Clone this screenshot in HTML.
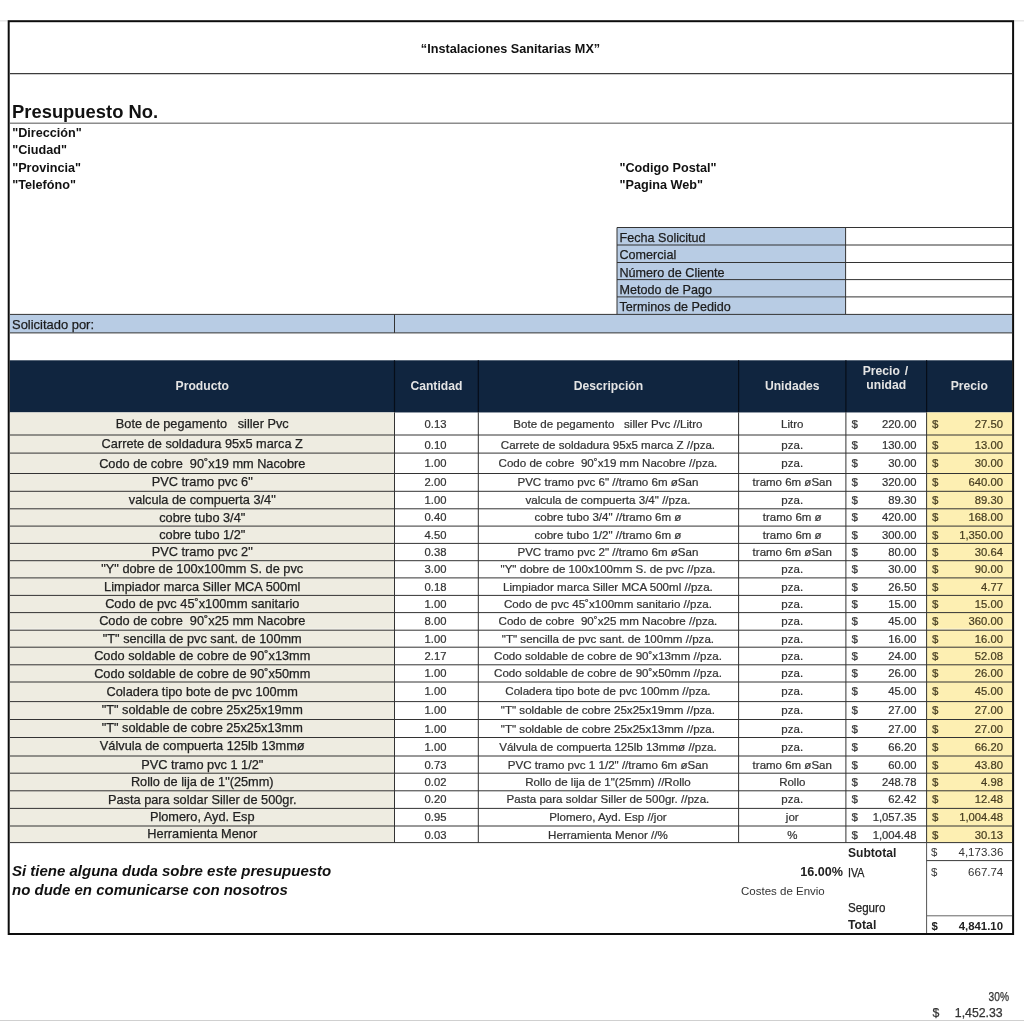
<!DOCTYPE html>
<html><head><meta charset="utf-8"><title>Presupuesto</title>
<style>
html,body{margin:0;padding:0;background:#fff;}
body{width:1024px;height:1024px;position:relative;overflow:hidden;font-family:"Liberation Sans",sans-serif;}
div{position:absolute;box-sizing:content-box;}
.t{white-space:pre;overflow:visible;}
.b{font-weight:bold;}
.tb{-webkit-text-stroke:0.25px currentColor;}
.ta{-webkit-text-stroke:0.22px currentColor;}
.i{font-style:italic;}
.c{text-align:center;}
.r{text-align:right;}
</style></head><body>
<svg width="1024" height="1024" viewBox="0 0 1024 1024" style="position:absolute;left:0;top:0"><rect x="0.00" y="20.30" width="1024.00" height="1.10" fill="#dedede"/><rect x="0.00" y="1020.00" width="1024.00" height="1.00" fill="#d0d0d0"/><rect x="8.00" y="20.00" width="1006.00" height="915.00" fill="#fff"/><line x1="10.00" y1="73.70" x2="1012.00" y2="73.70" stroke="#3c3c3c" stroke-width="1.20"/><line x1="10.00" y1="123.30" x2="1012.00" y2="123.30" stroke="#8c8c8c" stroke-width="1.60"/><rect x="617.00" y="227.50" width="228.50" height="87.00" fill="#b8cce4"/><line x1="617.00" y1="227.50" x2="1012.00" y2="227.50" stroke="#333333" stroke-width="1.00"/><line x1="617.00" y1="245.00" x2="1012.00" y2="245.00" stroke="#333333" stroke-width="1.00"/><line x1="617.00" y1="262.50" x2="1012.00" y2="262.50" stroke="#333333" stroke-width="1.00"/><line x1="617.00" y1="279.60" x2="1012.00" y2="279.60" stroke="#333333" stroke-width="1.00"/><line x1="617.00" y1="296.90" x2="1012.00" y2="296.90" stroke="#333333" stroke-width="1.00"/><line x1="617.00" y1="227.50" x2="617.00" y2="314.40" stroke="#333333" stroke-width="1.00"/><line x1="845.60" y1="227.50" x2="845.60" y2="314.40" stroke="#333333" stroke-width="1.00"/><rect x="10.00" y="314.40" width="1002.00" height="18.50" fill="#b8cce4"/><line x1="10.00" y1="314.40" x2="1012.00" y2="314.40" stroke="#333333" stroke-width="1.00"/><line x1="10.00" y1="332.90" x2="1012.00" y2="332.90" stroke="#333333" stroke-width="1.00"/><line x1="394.50" y1="314.40" x2="394.50" y2="332.90" stroke="#333333" stroke-width="1.00"/><rect x="9.70" y="360.30" width="1002.40" height="52.15" fill="#10253f"/><line x1="394.50" y1="360.30" x2="394.50" y2="412.30" stroke="#060d18" stroke-width="1.20"/><line x1="478.30" y1="360.30" x2="478.30" y2="412.30" stroke="#060d18" stroke-width="1.20"/><line x1="738.60" y1="360.30" x2="738.60" y2="412.30" stroke="#060d18" stroke-width="1.20"/><line x1="845.90" y1="360.30" x2="845.90" y2="412.30" stroke="#060d18" stroke-width="1.20"/><line x1="926.60" y1="360.30" x2="926.60" y2="412.30" stroke="#060d18" stroke-width="1.20"/><rect x="10.00" y="412.40" width="384.50" height="430.20" fill="#eeece1"/><rect x="926.60" y="412.40" width="85.40" height="430.20" fill="#fdefb2"/><rect x="9.70" y="628.70" width="1002.40" height="1.00" fill="rgba(255,255,255,0.7)"/><line x1="10.00" y1="435.00" x2="1012.00" y2="435.00" stroke="#333333" stroke-width="1.00"/><line x1="10.00" y1="453.10" x2="1012.00" y2="453.10" stroke="#333333" stroke-width="1.00"/><line x1="10.00" y1="473.50" x2="1012.00" y2="473.50" stroke="#333333" stroke-width="1.00"/><line x1="10.00" y1="491.30" x2="1012.00" y2="491.30" stroke="#333333" stroke-width="1.00"/><line x1="10.00" y1="508.80" x2="1012.00" y2="508.80" stroke="#333333" stroke-width="1.00"/><line x1="10.00" y1="526.10" x2="1012.00" y2="526.10" stroke="#333333" stroke-width="1.00"/><line x1="10.00" y1="543.40" x2="1012.00" y2="543.40" stroke="#333333" stroke-width="1.00"/><line x1="10.00" y1="560.70" x2="1012.00" y2="560.70" stroke="#333333" stroke-width="1.00"/><line x1="10.00" y1="577.90" x2="1012.00" y2="577.90" stroke="#333333" stroke-width="1.00"/><line x1="10.00" y1="595.40" x2="1012.00" y2="595.40" stroke="#333333" stroke-width="1.00"/><line x1="10.00" y1="612.60" x2="1012.00" y2="612.60" stroke="#333333" stroke-width="1.00"/><line x1="10.00" y1="630.20" x2="1012.00" y2="630.20" stroke="#333333" stroke-width="1.00"/><line x1="10.00" y1="647.20" x2="1012.00" y2="647.20" stroke="#333333" stroke-width="1.00"/><line x1="10.00" y1="664.80" x2="1012.00" y2="664.80" stroke="#333333" stroke-width="1.00"/><line x1="10.00" y1="682.00" x2="1012.00" y2="682.00" stroke="#333333" stroke-width="1.00"/><line x1="10.00" y1="701.60" x2="1012.00" y2="701.60" stroke="#333333" stroke-width="1.00"/><line x1="10.00" y1="719.50" x2="1012.00" y2="719.50" stroke="#333333" stroke-width="1.00"/><line x1="10.00" y1="737.50" x2="1012.00" y2="737.50" stroke="#333333" stroke-width="1.00"/><line x1="10.00" y1="756.00" x2="1012.00" y2="756.00" stroke="#333333" stroke-width="1.00"/><line x1="10.00" y1="773.20" x2="1012.00" y2="773.20" stroke="#333333" stroke-width="1.00"/><line x1="10.00" y1="790.80" x2="1012.00" y2="790.80" stroke="#333333" stroke-width="1.00"/><line x1="10.00" y1="808.40" x2="1012.00" y2="808.40" stroke="#333333" stroke-width="1.00"/><line x1="10.00" y1="826.00" x2="1012.00" y2="826.00" stroke="#333333" stroke-width="1.00"/><line x1="10.00" y1="842.60" x2="1012.00" y2="842.60" stroke="#333333" stroke-width="1.00"/><line x1="394.50" y1="412.40" x2="394.50" y2="842.60" stroke="#333333" stroke-width="1.00"/><line x1="478.30" y1="412.40" x2="478.30" y2="842.60" stroke="#333333" stroke-width="1.00"/><line x1="738.60" y1="412.40" x2="738.60" y2="842.60" stroke="#333333" stroke-width="1.00"/><line x1="845.90" y1="412.40" x2="845.90" y2="842.60" stroke="#333333" stroke-width="1.00"/><line x1="926.60" y1="412.40" x2="926.60" y2="842.60" stroke="#333333" stroke-width="1.00"/><line x1="926.60" y1="842.60" x2="926.60" y2="933.00" stroke="#555" stroke-width="1.00"/><line x1="926.60" y1="860.60" x2="1012.00" y2="860.60" stroke="#3a3a3a" stroke-width="1.00"/><line x1="926.60" y1="915.80" x2="1012.00" y2="915.80" stroke="#666" stroke-width="1.00"/><rect x="8.7" y="21.2" width="1004.4" height="912.8" fill="none" stroke="#0d0d0d" stroke-width="2"/></svg>
<div id="tx" style="left:0;top:0;width:1024px;height:1024px;will-change:transform;">
<div class="t b c" style="left:9.50px;top:23.75px;width:1002.00px;height:51.00px;line-height:51.00px;font-size:12.67px;color:#111">“Instalaciones Sanitarias MX”</div>
<div class="t b" style="left:12.00px;top:99.90px;width:400.00px;height:24.00px;line-height:24.00px;font-size:19px;color:#111;transform:scaleX(0.9680);transform-origin:left center;">Presupuesto No.</div>
<div class="t b" style="left:12.20px;top:124.80px;width:300.00px;height:17.50px;line-height:17.50px;font-size:12.65px;color:#111">"Dirección"</div>
<div class="t b" style="left:12.20px;top:142.30px;width:300.00px;height:17.50px;line-height:17.50px;font-size:12.65px;color:#111">"Ciudad"</div>
<div class="t b" style="left:12.20px;top:159.80px;width:300.00px;height:17.50px;line-height:17.50px;font-size:12.65px;color:#111">"Provincia"</div>
<div class="t b" style="left:12.20px;top:177.30px;width:300.00px;height:17.50px;line-height:17.50px;font-size:12.65px;color:#111">"Telefóno"</div>
<div class="t b" style="left:619.50px;top:159.70px;width:300.00px;height:17.50px;line-height:17.50px;font-size:12.65px;color:#111">"Codigo Postal"</div>
<div class="t b" style="left:619.50px;top:177.20px;width:300.00px;height:17.50px;line-height:17.50px;font-size:12.65px;color:#111">"Pagina Web"</div>
<div class="t tb" style="left:619.50px;top:229.50px;width:220.00px;height:17.50px;line-height:17.50px;font-size:12.6px;color:#1c1c1c">Fecha Solicitud</div>
<div class="t tb" style="left:619.50px;top:247.00px;width:220.00px;height:17.50px;line-height:17.50px;font-size:12.6px;color:#1c1c1c">Comercial</div>
<div class="t tb" style="left:619.50px;top:264.50px;width:220.00px;height:17.10px;line-height:17.10px;font-size:12.6px;color:#1c1c1c">Número de Cliente</div>
<div class="t tb" style="left:619.50px;top:281.60px;width:220.00px;height:17.30px;line-height:17.30px;font-size:12.6px;color:#1c1c1c">Metodo de Pago</div>
<div class="t tb" style="left:619.50px;top:298.90px;width:220.00px;height:17.50px;line-height:17.50px;font-size:12.6px;color:#1c1c1c">Terminos de Pedido</div>
<div class="t tb" style="left:11.50px;top:315.60px;width:300.00px;height:18.50px;line-height:18.50px;font-size:13.3px;color:#1c1c1c;transform:scaleX(0.9730);transform-origin:left center;">Solicitado por:</div>
<div class="t b c" style="left:10.00px;top:359.80px;width:384.50px;height:52.00px;line-height:52.00px;font-size:12.15px;color:#e4e4e4">Producto</div>
<div class="t b c" style="left:394.50px;top:359.80px;width:83.80px;height:52.00px;line-height:52.00px;font-size:12.15px;color:#e4e4e4">Cantidad</div>
<div class="t b c" style="left:478.30px;top:359.80px;width:260.30px;height:52.00px;line-height:52.00px;font-size:12.15px;color:#e4e4e4">Descripción</div>
<div class="t b c" style="left:738.60px;top:359.80px;width:107.30px;height:52.00px;line-height:52.00px;font-size:12.15px;color:#e4e4e4">Unidades</div>
<div class="t b c" style="left:926.60px;top:359.80px;width:85.40px;height:52.00px;line-height:52.00px;font-size:12.15px;color:#e4e4e4">Precio</div>
<div class="t b c" style="left:845.10px;top:363.50px;width:80.70px;height:14.00px;line-height:14.00px;font-size:12.15px;color:#e4e4e4;word-spacing:1.6px">Precio /</div>
<div class="t b c" style="left:845.90px;top:377.50px;width:80.70px;height:14.00px;line-height:14.00px;font-size:12.15px;color:#e4e4e4">unidad</div>
<div class="t c tb" style="left:10.00px;top:412.80px;width:384.50px;height:22.60px;line-height:22.60px;font-size:12.75px;color:#222">Bote de pegamento   siller Pvc</div>
<div class="t c ta" style="left:393.60px;top:413.00px;width:83.80px;height:22.60px;line-height:22.60px;font-size:11.25px;color:#333333">0.13</div>
<div class="t c ta" style="left:477.80px;top:413.00px;width:260.30px;height:22.60px;line-height:22.60px;font-size:11.58px;color:#333333">Bote de pegamento   siller Pvc //Litro</div>
<div class="t c ta" style="left:738.60px;top:413.00px;width:107.30px;height:22.60px;line-height:22.60px;font-size:11.5px;color:#333333">Litro</div>
<div class="t ta" style="left:851.40px;top:413.00px;width:20.00px;height:22.60px;line-height:22.60px;font-size:11.5px;color:#333333">$</div>
<div class="t r ta" style="left:845.90px;top:413.00px;width:70.60px;height:22.60px;line-height:22.60px;font-size:11.25px;color:#333333">220.00</div>
<div class="t ta" style="left:932.10px;top:413.00px;width:20.00px;height:22.60px;line-height:22.60px;font-size:11.5px;color:#453c20">$</div>
<div class="t r ta" style="left:926.60px;top:413.00px;width:76.40px;height:22.60px;line-height:22.60px;font-size:11.25px;color:#453c20">27.50</div>
<div class="t c tb" style="left:10.00px;top:434.70px;width:384.50px;height:18.10px;line-height:18.10px;font-size:12.75px;color:#222">Carrete de soldadura 95x5 marca Z</div>
<div class="t c ta" style="left:393.60px;top:435.60px;width:83.80px;height:18.10px;line-height:18.10px;font-size:11.25px;color:#333333">0.10</div>
<div class="t c ta" style="left:477.80px;top:435.60px;width:260.30px;height:18.10px;line-height:18.10px;font-size:11.58px;color:#333333">Carrete de soldadura 95x5 marca Z //pza.</div>
<div class="t c ta" style="left:738.60px;top:435.60px;width:107.30px;height:18.10px;line-height:18.10px;font-size:11.5px;color:#333333">pza.</div>
<div class="t ta" style="left:851.40px;top:435.60px;width:20.00px;height:18.10px;line-height:18.10px;font-size:11.5px;color:#333333">$</div>
<div class="t r ta" style="left:845.90px;top:435.60px;width:70.60px;height:18.10px;line-height:18.10px;font-size:11.25px;color:#333333">130.00</div>
<div class="t ta" style="left:932.10px;top:435.60px;width:20.00px;height:18.10px;line-height:18.10px;font-size:11.5px;color:#453c20">$</div>
<div class="t r ta" style="left:926.60px;top:435.60px;width:76.40px;height:18.10px;line-height:18.10px;font-size:11.25px;color:#453c20">13.00</div>
<div class="t c tb" style="left:10.00px;top:453.50px;width:384.50px;height:20.40px;line-height:20.40px;font-size:12.75px;color:#222">Codo de cobre  90˚x19 mm Nacobre</div>
<div class="t c ta" style="left:393.60px;top:452.70px;width:83.80px;height:20.40px;line-height:20.40px;font-size:11.25px;color:#333333">1.00</div>
<div class="t c ta" style="left:477.80px;top:452.70px;width:260.30px;height:20.40px;line-height:20.40px;font-size:11.58px;color:#333333">Codo de cobre  90˚x19 mm Nacobre //pza.</div>
<div class="t c ta" style="left:738.60px;top:452.70px;width:107.30px;height:20.40px;line-height:20.40px;font-size:11.5px;color:#333333">pza.</div>
<div class="t ta" style="left:851.40px;top:452.70px;width:20.00px;height:20.40px;line-height:20.40px;font-size:11.5px;color:#333333">$</div>
<div class="t r ta" style="left:845.90px;top:452.70px;width:70.60px;height:20.40px;line-height:20.40px;font-size:11.25px;color:#333333">30.00</div>
<div class="t ta" style="left:932.10px;top:452.70px;width:20.00px;height:20.40px;line-height:20.40px;font-size:11.5px;color:#453c20">$</div>
<div class="t r ta" style="left:926.60px;top:452.70px;width:76.40px;height:20.40px;line-height:20.40px;font-size:11.25px;color:#453c20">30.00</div>
<div class="t c tb" style="left:10.00px;top:473.20px;width:384.50px;height:17.80px;line-height:17.80px;font-size:12.75px;color:#222">PVC tramo pvc 6"</div>
<div class="t c ta" style="left:393.60px;top:474.10px;width:83.80px;height:17.80px;line-height:17.80px;font-size:11.25px;color:#333333">2.00</div>
<div class="t c ta" style="left:477.80px;top:474.10px;width:260.30px;height:17.80px;line-height:17.80px;font-size:11.58px;color:#333333">PVC tramo pvc 6" //tramo 6m øSan</div>
<div class="t c ta" style="left:738.60px;top:474.10px;width:107.30px;height:17.80px;line-height:17.80px;font-size:11.5px;color:#333333">tramo 6m øSan</div>
<div class="t ta" style="left:851.40px;top:474.10px;width:20.00px;height:17.80px;line-height:17.80px;font-size:11.5px;color:#333333">$</div>
<div class="t r ta" style="left:845.90px;top:474.10px;width:70.60px;height:17.80px;line-height:17.80px;font-size:11.25px;color:#333333">320.00</div>
<div class="t ta" style="left:932.10px;top:474.10px;width:20.00px;height:17.80px;line-height:17.80px;font-size:11.5px;color:#453c20">$</div>
<div class="t r ta" style="left:926.60px;top:474.10px;width:76.40px;height:17.80px;line-height:17.80px;font-size:11.25px;color:#453c20">640.00</div>
<div class="t c tb" style="left:10.00px;top:491.00px;width:384.50px;height:17.50px;line-height:17.50px;font-size:12.75px;color:#222">valcula de compuerta 3/4"</div>
<div class="t c ta" style="left:393.60px;top:491.90px;width:83.80px;height:17.50px;line-height:17.50px;font-size:11.25px;color:#333333">1.00</div>
<div class="t c ta" style="left:477.80px;top:491.90px;width:260.30px;height:17.50px;line-height:17.50px;font-size:11.58px;color:#333333">valcula de compuerta 3/4" //pza.</div>
<div class="t c ta" style="left:738.60px;top:491.90px;width:107.30px;height:17.50px;line-height:17.50px;font-size:11.5px;color:#333333">pza.</div>
<div class="t ta" style="left:851.40px;top:491.90px;width:20.00px;height:17.50px;line-height:17.50px;font-size:11.5px;color:#333333">$</div>
<div class="t r ta" style="left:845.90px;top:491.90px;width:70.60px;height:17.50px;line-height:17.50px;font-size:11.25px;color:#333333">89.30</div>
<div class="t ta" style="left:932.10px;top:491.90px;width:20.00px;height:17.50px;line-height:17.50px;font-size:11.5px;color:#453c20">$</div>
<div class="t r ta" style="left:926.60px;top:491.90px;width:76.40px;height:17.50px;line-height:17.50px;font-size:11.25px;color:#453c20">89.30</div>
<div class="t c tb" style="left:10.00px;top:508.50px;width:384.50px;height:17.30px;line-height:17.30px;font-size:12.75px;color:#222">cobre tubo 3/4"</div>
<div class="t c ta" style="left:393.60px;top:509.40px;width:83.80px;height:17.30px;line-height:17.30px;font-size:11.25px;color:#333333">0.40</div>
<div class="t c ta" style="left:477.80px;top:509.40px;width:260.30px;height:17.30px;line-height:17.30px;font-size:11.58px;color:#333333">cobre tubo 3/4" //tramo 6m ø</div>
<div class="t c ta" style="left:738.60px;top:509.40px;width:107.30px;height:17.30px;line-height:17.30px;font-size:11.5px;color:#333333">tramo 6m ø</div>
<div class="t ta" style="left:851.40px;top:509.40px;width:20.00px;height:17.30px;line-height:17.30px;font-size:11.5px;color:#333333">$</div>
<div class="t r ta" style="left:845.90px;top:509.40px;width:70.60px;height:17.30px;line-height:17.30px;font-size:11.25px;color:#333333">420.00</div>
<div class="t ta" style="left:932.10px;top:509.40px;width:20.00px;height:17.30px;line-height:17.30px;font-size:11.5px;color:#453c20">$</div>
<div class="t r ta" style="left:926.60px;top:509.40px;width:76.40px;height:17.30px;line-height:17.30px;font-size:11.25px;color:#453c20">168.00</div>
<div class="t c tb" style="left:10.00px;top:525.80px;width:384.50px;height:17.30px;line-height:17.30px;font-size:12.75px;color:#222">cobre tubo 1/2"</div>
<div class="t c ta" style="left:393.60px;top:526.70px;width:83.80px;height:17.30px;line-height:17.30px;font-size:11.25px;color:#333333">4.50</div>
<div class="t c ta" style="left:477.80px;top:526.70px;width:260.30px;height:17.30px;line-height:17.30px;font-size:11.58px;color:#333333">cobre tubo 1/2" //tramo 6m ø</div>
<div class="t c ta" style="left:738.60px;top:526.70px;width:107.30px;height:17.30px;line-height:17.30px;font-size:11.5px;color:#333333">tramo 6m ø</div>
<div class="t ta" style="left:851.40px;top:526.70px;width:20.00px;height:17.30px;line-height:17.30px;font-size:11.5px;color:#333333">$</div>
<div class="t r ta" style="left:845.90px;top:526.70px;width:70.60px;height:17.30px;line-height:17.30px;font-size:11.25px;color:#333333">300.00</div>
<div class="t ta" style="left:932.10px;top:526.70px;width:20.00px;height:17.30px;line-height:17.30px;font-size:11.5px;color:#453c20">$</div>
<div class="t r ta" style="left:926.60px;top:526.70px;width:76.40px;height:17.30px;line-height:17.30px;font-size:11.25px;color:#453c20">1,350.00</div>
<div class="t c tb" style="left:10.00px;top:543.10px;width:384.50px;height:17.30px;line-height:17.30px;font-size:12.75px;color:#222">PVC tramo pvc 2"</div>
<div class="t c ta" style="left:393.60px;top:544.00px;width:83.80px;height:17.30px;line-height:17.30px;font-size:11.25px;color:#333333">0.38</div>
<div class="t c ta" style="left:477.80px;top:544.00px;width:260.30px;height:17.30px;line-height:17.30px;font-size:11.58px;color:#333333">PVC tramo pvc 2" //tramo 6m øSan</div>
<div class="t c ta" style="left:738.60px;top:544.00px;width:107.30px;height:17.30px;line-height:17.30px;font-size:11.5px;color:#333333">tramo 6m øSan</div>
<div class="t ta" style="left:851.40px;top:544.00px;width:20.00px;height:17.30px;line-height:17.30px;font-size:11.5px;color:#333333">$</div>
<div class="t r ta" style="left:845.90px;top:544.00px;width:70.60px;height:17.30px;line-height:17.30px;font-size:11.25px;color:#333333">80.00</div>
<div class="t ta" style="left:932.10px;top:544.00px;width:20.00px;height:17.30px;line-height:17.30px;font-size:11.5px;color:#453c20">$</div>
<div class="t r ta" style="left:926.60px;top:544.00px;width:76.40px;height:17.30px;line-height:17.30px;font-size:11.25px;color:#453c20">30.64</div>
<div class="t c tb" style="left:10.00px;top:560.40px;width:384.50px;height:17.20px;line-height:17.20px;font-size:12.75px;color:#222">"Y" dobre de 100x100mm S. de pvc</div>
<div class="t c ta" style="left:393.60px;top:561.30px;width:83.80px;height:17.20px;line-height:17.20px;font-size:11.25px;color:#333333">3.00</div>
<div class="t c ta" style="left:477.80px;top:561.30px;width:260.30px;height:17.20px;line-height:17.20px;font-size:11.58px;color:#333333">"Y" dobre de 100x100mm S. de pvc //pza.</div>
<div class="t c ta" style="left:738.60px;top:561.30px;width:107.30px;height:17.20px;line-height:17.20px;font-size:11.5px;color:#333333">pza.</div>
<div class="t ta" style="left:851.40px;top:561.30px;width:20.00px;height:17.20px;line-height:17.20px;font-size:11.5px;color:#333333">$</div>
<div class="t r ta" style="left:845.90px;top:561.30px;width:70.60px;height:17.20px;line-height:17.20px;font-size:11.25px;color:#333333">30.00</div>
<div class="t ta" style="left:932.10px;top:561.30px;width:20.00px;height:17.20px;line-height:17.20px;font-size:11.5px;color:#453c20">$</div>
<div class="t r ta" style="left:926.60px;top:561.30px;width:76.40px;height:17.20px;line-height:17.20px;font-size:11.25px;color:#453c20">90.00</div>
<div class="t c tb" style="left:10.00px;top:577.60px;width:384.50px;height:17.50px;line-height:17.50px;font-size:12.75px;color:#222">Limpiador marca Siller MCA 500ml</div>
<div class="t c ta" style="left:393.60px;top:578.50px;width:83.80px;height:17.50px;line-height:17.50px;font-size:11.25px;color:#333333">0.18</div>
<div class="t c ta" style="left:477.80px;top:578.50px;width:260.30px;height:17.50px;line-height:17.50px;font-size:11.58px;color:#333333">Limpiador marca Siller MCA 500ml //pza.</div>
<div class="t c ta" style="left:738.60px;top:578.50px;width:107.30px;height:17.50px;line-height:17.50px;font-size:11.5px;color:#333333">pza.</div>
<div class="t ta" style="left:851.40px;top:578.50px;width:20.00px;height:17.50px;line-height:17.50px;font-size:11.5px;color:#333333">$</div>
<div class="t r ta" style="left:845.90px;top:578.50px;width:70.60px;height:17.50px;line-height:17.50px;font-size:11.25px;color:#333333">26.50</div>
<div class="t ta" style="left:932.10px;top:578.50px;width:20.00px;height:17.50px;line-height:17.50px;font-size:11.5px;color:#453c20">$</div>
<div class="t r ta" style="left:926.60px;top:578.50px;width:76.40px;height:17.50px;line-height:17.50px;font-size:11.25px;color:#453c20">4.77</div>
<div class="t c tb" style="left:10.00px;top:595.10px;width:384.50px;height:17.20px;line-height:17.20px;font-size:12.75px;color:#222">Codo de pvc 45˚x100mm sanitario</div>
<div class="t c ta" style="left:393.60px;top:596.00px;width:83.80px;height:17.20px;line-height:17.20px;font-size:11.25px;color:#333333">1.00</div>
<div class="t c ta" style="left:477.80px;top:596.00px;width:260.30px;height:17.20px;line-height:17.20px;font-size:11.58px;color:#333333">Codo de pvc 45˚x100mm sanitario //pza.</div>
<div class="t c ta" style="left:738.60px;top:596.00px;width:107.30px;height:17.20px;line-height:17.20px;font-size:11.5px;color:#333333">pza.</div>
<div class="t ta" style="left:851.40px;top:596.00px;width:20.00px;height:17.20px;line-height:17.20px;font-size:11.5px;color:#333333">$</div>
<div class="t r ta" style="left:845.90px;top:596.00px;width:70.60px;height:17.20px;line-height:17.20px;font-size:11.25px;color:#333333">15.00</div>
<div class="t ta" style="left:932.10px;top:596.00px;width:20.00px;height:17.20px;line-height:17.20px;font-size:11.5px;color:#453c20">$</div>
<div class="t r ta" style="left:926.60px;top:596.00px;width:76.40px;height:17.20px;line-height:17.20px;font-size:11.25px;color:#453c20">15.00</div>
<div class="t c tb" style="left:10.00px;top:612.30px;width:384.50px;height:17.60px;line-height:17.60px;font-size:12.75px;color:#222">Codo de cobre  90˚x25 mm Nacobre</div>
<div class="t c ta" style="left:393.60px;top:613.20px;width:83.80px;height:17.60px;line-height:17.60px;font-size:11.25px;color:#333333">8.00</div>
<div class="t c ta" style="left:477.80px;top:613.20px;width:260.30px;height:17.60px;line-height:17.60px;font-size:11.58px;color:#333333">Codo de cobre  90˚x25 mm Nacobre //pza.</div>
<div class="t c ta" style="left:738.60px;top:613.20px;width:107.30px;height:17.60px;line-height:17.60px;font-size:11.5px;color:#333333">pza.</div>
<div class="t ta" style="left:851.40px;top:613.20px;width:20.00px;height:17.60px;line-height:17.60px;font-size:11.5px;color:#333333">$</div>
<div class="t r ta" style="left:845.90px;top:613.20px;width:70.60px;height:17.60px;line-height:17.60px;font-size:11.25px;color:#333333">45.00</div>
<div class="t ta" style="left:932.10px;top:613.20px;width:20.00px;height:17.60px;line-height:17.60px;font-size:11.5px;color:#453c20">$</div>
<div class="t r ta" style="left:926.60px;top:613.20px;width:76.40px;height:17.60px;line-height:17.60px;font-size:11.25px;color:#453c20">360.00</div>
<div class="t c tb" style="left:10.00px;top:629.90px;width:384.50px;height:17.00px;line-height:17.00px;font-size:12.75px;color:#222">"T" sencilla de pvc sant. de 100mm</div>
<div class="t c ta" style="left:393.60px;top:630.80px;width:83.80px;height:17.00px;line-height:17.00px;font-size:11.25px;color:#333333">1.00</div>
<div class="t c ta" style="left:477.80px;top:630.80px;width:260.30px;height:17.00px;line-height:17.00px;font-size:11.58px;color:#333333">"T" sencilla de pvc sant. de 100mm //pza.</div>
<div class="t c ta" style="left:738.60px;top:630.80px;width:107.30px;height:17.00px;line-height:17.00px;font-size:11.5px;color:#333333">pza.</div>
<div class="t ta" style="left:851.40px;top:630.80px;width:20.00px;height:17.00px;line-height:17.00px;font-size:11.5px;color:#333333">$</div>
<div class="t r ta" style="left:845.90px;top:630.80px;width:70.60px;height:17.00px;line-height:17.00px;font-size:11.25px;color:#333333">16.00</div>
<div class="t ta" style="left:932.10px;top:630.80px;width:20.00px;height:17.00px;line-height:17.00px;font-size:11.5px;color:#453c20">$</div>
<div class="t r ta" style="left:926.60px;top:630.80px;width:76.40px;height:17.00px;line-height:17.00px;font-size:11.25px;color:#453c20">16.00</div>
<div class="t c tb" style="left:10.00px;top:646.90px;width:384.50px;height:17.60px;line-height:17.60px;font-size:12.75px;color:#222">Codo soldable de cobre de 90˚x13mm</div>
<div class="t c ta" style="left:393.60px;top:647.80px;width:83.80px;height:17.60px;line-height:17.60px;font-size:11.25px;color:#333333">2.17</div>
<div class="t c ta" style="left:477.80px;top:647.80px;width:260.30px;height:17.60px;line-height:17.60px;font-size:11.58px;color:#333333">Codo soldable de cobre de 90˚x13mm //pza.</div>
<div class="t c ta" style="left:738.60px;top:647.80px;width:107.30px;height:17.60px;line-height:17.60px;font-size:11.5px;color:#333333">pza.</div>
<div class="t ta" style="left:851.40px;top:647.80px;width:20.00px;height:17.60px;line-height:17.60px;font-size:11.5px;color:#333333">$</div>
<div class="t r ta" style="left:845.90px;top:647.80px;width:70.60px;height:17.60px;line-height:17.60px;font-size:11.25px;color:#333333">24.00</div>
<div class="t ta" style="left:932.10px;top:647.80px;width:20.00px;height:17.60px;line-height:17.60px;font-size:11.5px;color:#453c20">$</div>
<div class="t r ta" style="left:926.60px;top:647.80px;width:76.40px;height:17.60px;line-height:17.60px;font-size:11.25px;color:#453c20">52.08</div>
<div class="t c tb" style="left:10.00px;top:664.50px;width:384.50px;height:17.20px;line-height:17.20px;font-size:12.75px;color:#222">Codo soldable de cobre de 90˚x50mm</div>
<div class="t c ta" style="left:393.60px;top:665.40px;width:83.80px;height:17.20px;line-height:17.20px;font-size:11.25px;color:#333333">1.00</div>
<div class="t c ta" style="left:477.80px;top:665.40px;width:260.30px;height:17.20px;line-height:17.20px;font-size:11.58px;color:#333333">Codo soldable de cobre de 90˚x50mm //pza.</div>
<div class="t c ta" style="left:738.60px;top:665.40px;width:107.30px;height:17.20px;line-height:17.20px;font-size:11.5px;color:#333333">pza.</div>
<div class="t ta" style="left:851.40px;top:665.40px;width:20.00px;height:17.20px;line-height:17.20px;font-size:11.5px;color:#333333">$</div>
<div class="t r ta" style="left:845.90px;top:665.40px;width:70.60px;height:17.20px;line-height:17.20px;font-size:11.25px;color:#333333">26.00</div>
<div class="t ta" style="left:932.10px;top:665.40px;width:20.00px;height:17.20px;line-height:17.20px;font-size:11.5px;color:#453c20">$</div>
<div class="t r ta" style="left:926.60px;top:665.40px;width:76.40px;height:17.20px;line-height:17.20px;font-size:11.25px;color:#453c20">26.00</div>
<div class="t c tb" style="left:10.00px;top:681.70px;width:384.50px;height:19.60px;line-height:19.60px;font-size:12.75px;color:#222">Coladera tipo bote de pvc 100mm</div>
<div class="t c ta" style="left:393.60px;top:681.80px;width:83.80px;height:19.60px;line-height:19.60px;font-size:11.25px;color:#333333">1.00</div>
<div class="t c ta" style="left:477.80px;top:681.80px;width:260.30px;height:19.60px;line-height:19.60px;font-size:11.58px;color:#333333">Coladera tipo bote de pvc 100mm //pza.</div>
<div class="t c ta" style="left:738.60px;top:681.80px;width:107.30px;height:19.60px;line-height:19.60px;font-size:11.5px;color:#333333">pza.</div>
<div class="t ta" style="left:851.40px;top:681.80px;width:20.00px;height:19.60px;line-height:19.60px;font-size:11.5px;color:#333333">$</div>
<div class="t r ta" style="left:845.90px;top:681.80px;width:70.60px;height:19.60px;line-height:19.60px;font-size:11.25px;color:#333333">45.00</div>
<div class="t ta" style="left:932.10px;top:681.80px;width:20.00px;height:19.60px;line-height:19.60px;font-size:11.5px;color:#453c20">$</div>
<div class="t r ta" style="left:926.60px;top:681.80px;width:76.40px;height:19.60px;line-height:19.60px;font-size:11.25px;color:#453c20">45.00</div>
<div class="t c tb" style="left:10.00px;top:701.30px;width:384.50px;height:17.90px;line-height:17.90px;font-size:12.75px;color:#222">"T" soldable de cobre 25x25x19mm</div>
<div class="t c ta" style="left:393.60px;top:702.20px;width:83.80px;height:17.90px;line-height:17.90px;font-size:11.25px;color:#333333">1.00</div>
<div class="t c ta" style="left:477.80px;top:702.20px;width:260.30px;height:17.90px;line-height:17.90px;font-size:11.58px;color:#333333">"T" soldable de cobre 25x25x19mm //pza.</div>
<div class="t c ta" style="left:738.60px;top:702.20px;width:107.30px;height:17.90px;line-height:17.90px;font-size:11.5px;color:#333333">pza.</div>
<div class="t ta" style="left:851.40px;top:702.20px;width:20.00px;height:17.90px;line-height:17.90px;font-size:11.5px;color:#333333">$</div>
<div class="t r ta" style="left:845.90px;top:702.20px;width:70.60px;height:17.90px;line-height:17.90px;font-size:11.25px;color:#333333">27.00</div>
<div class="t ta" style="left:932.10px;top:702.20px;width:20.00px;height:17.90px;line-height:17.90px;font-size:11.5px;color:#453c20">$</div>
<div class="t r ta" style="left:926.60px;top:702.20px;width:76.40px;height:17.90px;line-height:17.90px;font-size:11.25px;color:#453c20">27.00</div>
<div class="t c tb" style="left:10.00px;top:719.20px;width:384.50px;height:18.00px;line-height:18.00px;font-size:12.75px;color:#222">"T" soldable de cobre 25x25x13mm</div>
<div class="t c ta" style="left:393.60px;top:720.10px;width:83.80px;height:18.00px;line-height:18.00px;font-size:11.25px;color:#333333">1.00</div>
<div class="t c ta" style="left:477.80px;top:720.10px;width:260.30px;height:18.00px;line-height:18.00px;font-size:11.58px;color:#333333">"T" soldable de cobre 25x25x13mm //pza.</div>
<div class="t c ta" style="left:738.60px;top:720.10px;width:107.30px;height:18.00px;line-height:18.00px;font-size:11.5px;color:#333333">pza.</div>
<div class="t ta" style="left:851.40px;top:720.10px;width:20.00px;height:18.00px;line-height:18.00px;font-size:11.5px;color:#333333">$</div>
<div class="t r ta" style="left:845.90px;top:720.10px;width:70.60px;height:18.00px;line-height:18.00px;font-size:11.25px;color:#333333">27.00</div>
<div class="t ta" style="left:932.10px;top:720.10px;width:20.00px;height:18.00px;line-height:18.00px;font-size:11.5px;color:#453c20">$</div>
<div class="t r ta" style="left:926.60px;top:720.10px;width:76.40px;height:18.00px;line-height:18.00px;font-size:11.25px;color:#453c20">27.00</div>
<div class="t c tb" style="left:10.00px;top:737.20px;width:384.50px;height:18.50px;line-height:18.50px;font-size:12.75px;color:#222">Válvula de compuerta 125lb 13mmø</div>
<div class="t c ta" style="left:393.60px;top:738.10px;width:83.80px;height:18.50px;line-height:18.50px;font-size:11.25px;color:#333333">1.00</div>
<div class="t c ta" style="left:477.80px;top:738.10px;width:260.30px;height:18.50px;line-height:18.50px;font-size:11.58px;color:#333333">Válvula de compuerta 125lb 13mmø //pza.</div>
<div class="t c ta" style="left:738.60px;top:738.10px;width:107.30px;height:18.50px;line-height:18.50px;font-size:11.5px;color:#333333">pza.</div>
<div class="t ta" style="left:851.40px;top:738.10px;width:20.00px;height:18.50px;line-height:18.50px;font-size:11.5px;color:#333333">$</div>
<div class="t r ta" style="left:845.90px;top:738.10px;width:70.60px;height:18.50px;line-height:18.50px;font-size:11.25px;color:#333333">66.20</div>
<div class="t ta" style="left:932.10px;top:738.10px;width:20.00px;height:18.50px;line-height:18.50px;font-size:11.5px;color:#453c20">$</div>
<div class="t r ta" style="left:926.60px;top:738.10px;width:76.40px;height:18.50px;line-height:18.50px;font-size:11.25px;color:#453c20">66.20</div>
<div class="t c tb" style="left:10.00px;top:755.70px;width:384.50px;height:17.20px;line-height:17.20px;font-size:12.75px;color:#222">PVC tramo pvc 1 1/2"</div>
<div class="t c ta" style="left:393.60px;top:756.60px;width:83.80px;height:17.20px;line-height:17.20px;font-size:11.25px;color:#333333">0.73</div>
<div class="t c ta" style="left:477.80px;top:756.60px;width:260.30px;height:17.20px;line-height:17.20px;font-size:11.58px;color:#333333">PVC tramo pvc 1 1/2" //tramo 6m øSan</div>
<div class="t c ta" style="left:738.60px;top:756.60px;width:107.30px;height:17.20px;line-height:17.20px;font-size:11.5px;color:#333333">tramo 6m øSan</div>
<div class="t ta" style="left:851.40px;top:756.60px;width:20.00px;height:17.20px;line-height:17.20px;font-size:11.5px;color:#333333">$</div>
<div class="t r ta" style="left:845.90px;top:756.60px;width:70.60px;height:17.20px;line-height:17.20px;font-size:11.25px;color:#333333">60.00</div>
<div class="t ta" style="left:932.10px;top:756.60px;width:20.00px;height:17.20px;line-height:17.20px;font-size:11.5px;color:#453c20">$</div>
<div class="t r ta" style="left:926.60px;top:756.60px;width:76.40px;height:17.20px;line-height:17.20px;font-size:11.25px;color:#453c20">43.80</div>
<div class="t c tb" style="left:10.00px;top:772.90px;width:384.50px;height:17.60px;line-height:17.60px;font-size:12.75px;color:#222">Rollo de lija de 1"(25mm)</div>
<div class="t c ta" style="left:393.60px;top:773.80px;width:83.80px;height:17.60px;line-height:17.60px;font-size:11.25px;color:#333333">0.02</div>
<div class="t c ta" style="left:477.80px;top:773.80px;width:260.30px;height:17.60px;line-height:17.60px;font-size:11.58px;color:#333333">Rollo de lija de 1"(25mm) //Rollo</div>
<div class="t c ta" style="left:738.60px;top:773.80px;width:107.30px;height:17.60px;line-height:17.60px;font-size:11.5px;color:#333333">Rollo</div>
<div class="t ta" style="left:851.40px;top:773.80px;width:20.00px;height:17.60px;line-height:17.60px;font-size:11.5px;color:#333333">$</div>
<div class="t r ta" style="left:845.90px;top:773.80px;width:70.60px;height:17.60px;line-height:17.60px;font-size:11.25px;color:#333333">248.78</div>
<div class="t ta" style="left:932.10px;top:773.80px;width:20.00px;height:17.60px;line-height:17.60px;font-size:11.5px;color:#453c20">$</div>
<div class="t r ta" style="left:926.60px;top:773.80px;width:76.40px;height:17.60px;line-height:17.60px;font-size:11.25px;color:#453c20">4.98</div>
<div class="t c tb" style="left:10.00px;top:790.50px;width:384.50px;height:17.60px;line-height:17.60px;font-size:12.75px;color:#222">Pasta para soldar Siller de 500gr.</div>
<div class="t c ta" style="left:393.60px;top:791.40px;width:83.80px;height:17.60px;line-height:17.60px;font-size:11.25px;color:#333333">0.20</div>
<div class="t c ta" style="left:477.80px;top:791.40px;width:260.30px;height:17.60px;line-height:17.60px;font-size:11.58px;color:#333333">Pasta para soldar Siller de 500gr. //pza.</div>
<div class="t c ta" style="left:738.60px;top:791.40px;width:107.30px;height:17.60px;line-height:17.60px;font-size:11.5px;color:#333333">pza.</div>
<div class="t ta" style="left:851.40px;top:791.40px;width:20.00px;height:17.60px;line-height:17.60px;font-size:11.5px;color:#333333">$</div>
<div class="t r ta" style="left:845.90px;top:791.40px;width:70.60px;height:17.60px;line-height:17.60px;font-size:11.25px;color:#333333">62.42</div>
<div class="t ta" style="left:932.10px;top:791.40px;width:20.00px;height:17.60px;line-height:17.60px;font-size:11.5px;color:#453c20">$</div>
<div class="t r ta" style="left:926.60px;top:791.40px;width:76.40px;height:17.60px;line-height:17.60px;font-size:11.25px;color:#453c20">12.48</div>
<div class="t c tb" style="left:10.00px;top:808.10px;width:384.50px;height:17.60px;line-height:17.60px;font-size:12.75px;color:#222">Plomero, Ayd. Esp</div>
<div class="t c ta" style="left:393.60px;top:809.00px;width:83.80px;height:17.60px;line-height:17.60px;font-size:11.25px;color:#333333">0.95</div>
<div class="t c ta" style="left:477.80px;top:809.00px;width:260.30px;height:17.60px;line-height:17.60px;font-size:11.58px;color:#333333">Plomero, Ayd. Esp //jor</div>
<div class="t c ta" style="left:738.60px;top:809.00px;width:107.30px;height:17.60px;line-height:17.60px;font-size:11.5px;color:#333333">jor</div>
<div class="t ta" style="left:851.40px;top:809.00px;width:20.00px;height:17.60px;line-height:17.60px;font-size:11.5px;color:#333333">$</div>
<div class="t r ta" style="left:845.90px;top:809.00px;width:70.60px;height:17.60px;line-height:17.60px;font-size:11.25px;color:#333333">1,057.35</div>
<div class="t ta" style="left:932.10px;top:809.00px;width:20.00px;height:17.60px;line-height:17.60px;font-size:11.5px;color:#453c20">$</div>
<div class="t r ta" style="left:926.60px;top:809.00px;width:76.40px;height:17.60px;line-height:17.60px;font-size:11.25px;color:#453c20">1,004.48</div>
<div class="t c tb" style="left:10.00px;top:825.70px;width:384.50px;height:16.60px;line-height:16.60px;font-size:12.75px;color:#222">Herramienta Menor</div>
<div class="t c ta" style="left:393.60px;top:826.60px;width:83.80px;height:16.60px;line-height:16.60px;font-size:11.25px;color:#333333">0.03</div>
<div class="t c ta" style="left:477.80px;top:826.60px;width:260.30px;height:16.60px;line-height:16.60px;font-size:11.58px;color:#333333">Herramienta Menor //%</div>
<div class="t c ta" style="left:738.60px;top:826.60px;width:107.30px;height:16.60px;line-height:16.60px;font-size:11.5px;color:#333333">%</div>
<div class="t ta" style="left:851.40px;top:826.60px;width:20.00px;height:16.60px;line-height:16.60px;font-size:11.5px;color:#333333">$</div>
<div class="t r ta" style="left:845.90px;top:826.60px;width:70.60px;height:16.60px;line-height:16.60px;font-size:11.25px;color:#333333">1,004.48</div>
<div class="t ta" style="left:932.10px;top:826.60px;width:20.00px;height:16.60px;line-height:16.60px;font-size:11.5px;color:#453c20">$</div>
<div class="t r ta" style="left:926.60px;top:826.60px;width:76.40px;height:16.60px;line-height:16.60px;font-size:11.25px;color:#453c20">30.13</div>
<div class="t b" style="left:847.90px;top:843.60px;width:80.00px;height:18.00px;line-height:18.00px;font-size:12.6px;color:#222;transform:scaleX(0.9600);transform-origin:left center;">Subtotal</div>
<div class="t tb" style="left:847.90px;top:863.80px;width:80.00px;height:18.00px;line-height:18.00px;font-size:12.6px;color:#222;transform:scaleX(0.8500);transform-origin:left center;">IVA</div>
<div class="t b r" style="left:700.00px;top:863.00px;width:143.00px;height:18.00px;line-height:18.00px;font-size:12.6px;color:#222">16.00%</div>
<div class="t " style="left:741.00px;top:881.60px;width:100.00px;height:18.00px;line-height:18.00px;font-size:11.5px;color:#333333">Costes de Envio</div>
<div class="t tb" style="left:847.90px;top:899.00px;width:80.00px;height:18.00px;line-height:18.00px;font-size:12.6px;color:#222;transform:scaleX(0.9200);transform-origin:left center;">Seguro</div>
<div class="t b" style="left:847.90px;top:916.30px;width:80.00px;height:18.00px;line-height:18.00px;font-size:12.6px;color:#222;transform:scaleX(0.9700);transform-origin:left center;">Total</div>
<div class="t " style="left:931.00px;top:842.60px;width:20.00px;height:18.00px;line-height:18.00px;font-size:11.5px;color:#333333">$</div>
<div class="t r" style="left:926.60px;top:842.60px;width:76.70px;height:18.00px;line-height:18.00px;font-size:11.5px;color:#333333">4,173.36</div>
<div class="t " style="left:931.00px;top:863.00px;width:20.00px;height:18.00px;line-height:18.00px;font-size:11.5px;color:#333333">$</div>
<div class="t r" style="left:926.60px;top:863.00px;width:76.70px;height:18.00px;line-height:18.00px;font-size:11.5px;color:#333333">667.74</div>
<div class="t b" style="left:931.50px;top:916.50px;width:20.00px;height:18.00px;line-height:18.00px;font-size:11.4px;color:#222">$</div>
<div class="t b r" style="left:926.60px;top:916.50px;width:76.40px;height:18.00px;line-height:18.00px;font-size:11.4px;color:#222">4,841.10</div>
<div class="t b i" style="left:12.00px;top:860.50px;width:500.00px;height:19.00px;line-height:19.00px;font-size:15px;color:#111">Si tiene alguna duda sobre este presupuesto</div>
<div class="t b i" style="left:12.00px;top:879.50px;width:500.00px;height:19.00px;line-height:19.00px;font-size:15px;color:#111">no dude en comunicarse con nosotros</div>
<div class="t r tb" style="left:900.00px;top:987.50px;width:109.00px;height:18.00px;line-height:18.00px;font-size:12.3px;color:#333;transform:scaleX(0.8300);transform-origin:right center;">30%</div>
<div class="t tb" style="left:932.50px;top:1003.50px;width:20.00px;height:18.00px;line-height:18.00px;font-size:12.3px;color:#333">$</div>
<div class="t r tb" style="left:900.00px;top:1003.50px;width:102.70px;height:18.00px;line-height:18.00px;font-size:12.3px;color:#333">1,452.33</div>
</div>
</body></html>
